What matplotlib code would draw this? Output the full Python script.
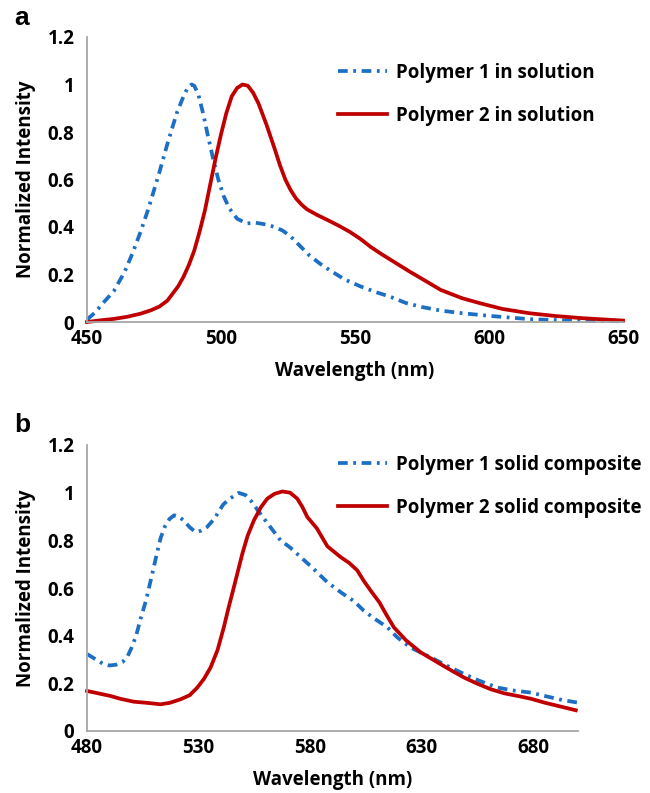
import matplotlib
matplotlib.use("Agg")
import matplotlib.pyplot as plt

# ---------------- data ----------------
# Panel a: in solution
wl_a1 = [450, 453, 456, 460, 464, 467, 470, 473, 477, 480, 483.5, 486, 487.5, 489, 490,
         491.5, 493.5, 495, 497, 499, 501, 503, 506, 509.5, 513, 517, 520, 523, 526,
         529.5, 533, 537, 541, 546, 552, 558, 563, 569, 575, 582, 590, 600, 615, 630, 650]
p1_sol = [0.01, 0.04, 0.08, 0.13, 0.21, 0.29, 0.38, 0.48, 0.63, 0.75, 0.88, 0.95, 0.985, 1.0, 0.995,
          0.96, 0.87, 0.79, 0.69, 0.60, 0.53, 0.48, 0.435, 0.415, 0.418, 0.41, 0.40, 0.385, 0.36,
          0.32, 0.28, 0.245, 0.215, 0.18, 0.15, 0.125, 0.107, 0.08, 0.063, 0.048, 0.037, 0.026,
          0.012, 0.006, 0.003]

wl_a2 = [450, 455, 460, 465, 470, 474, 477, 480, 482, 484, 486, 488, 490, 492, 494, 496, 498,
         500, 502, 504, 506, 508, 510, 512, 514, 517, 520, 522, 524, 526, 528, 530, 532, 536,
         540, 544, 548, 552, 556, 560, 565, 570, 576, 582, 590, 597, 605, 615, 625, 635, 650]
p2_sol = [0.0, 0.007, 0.013, 0.022, 0.035, 0.05, 0.065, 0.09, 0.12, 0.15, 0.19, 0.24, 0.30, 0.38,
          0.47, 0.58, 0.69, 0.79, 0.88, 0.95, 0.985, 1.0, 0.995, 0.965, 0.92, 0.83, 0.73, 0.66,
          0.60, 0.555, 0.52, 0.495, 0.475, 0.45, 0.428, 0.405, 0.38, 0.35, 0.315, 0.285, 0.25,
          0.215, 0.175, 0.135, 0.10, 0.078, 0.055, 0.037, 0.025, 0.016, 0.006]

# Panel b: solid composite
wl_b1 = [480, 484, 487, 490, 493, 496, 498, 500, 502, 504, 506.5, 509, 511.3, 513, 515, 517, 519,
         521, 523.3, 526, 528.6, 531, 533.8, 537, 541, 544, 548, 551, 553.3, 557, 561, 566.7,
         571, 575.7, 581, 587.6, 594, 599.6, 604, 609, 614.6, 619, 625, 634, 641, 649, 656, 664,
         671, 679, 686, 693, 700]
p1_solid = [0.323, 0.30, 0.283, 0.275, 0.278, 0.29, 0.31, 0.35, 0.40, 0.47, 0.55, 0.65, 0.744,
            0.81, 0.86, 0.89, 0.905, 0.90, 0.884, 0.855, 0.835, 0.84, 0.856, 0.89, 0.95, 0.975,
            0.999, 0.99, 0.968, 0.92, 0.87, 0.80, 0.77, 0.73, 0.685, 0.625, 0.58, 0.545, 0.505,
            0.47, 0.435, 0.393, 0.35, 0.309, 0.275, 0.239, 0.21, 0.182, 0.17, 0.161, 0.145,
            0.13, 0.119]

wl_b2 = [480, 485, 490.5, 495, 500.9, 507, 512.9, 517, 521.9, 526, 529.4, 532.5, 535.4, 538.5,
         541.3, 543.5, 545.8, 549.6, 552, 554.8, 558, 560.8, 564, 567.5, 571, 574.2, 576.5,
         578.7, 583, 587.7, 593.6, 597.5, 601.1, 604, 607.1, 611, 614, 617.5, 623, 629.5, 634,
         638.5, 644, 649, 655, 661, 667, 673, 679, 685, 692, 699]
p2_solid = [0.168, 0.158, 0.147, 0.135, 0.123, 0.118, 0.112, 0.118, 0.133, 0.15, 0.182, 0.22,
            0.267, 0.34, 0.435, 0.52, 0.603, 0.744, 0.82, 0.884, 0.94, 0.975, 0.995, 1.005, 1.0,
            0.975, 0.94, 0.898, 0.85, 0.775, 0.730, 0.705, 0.674, 0.63, 0.589, 0.54, 0.49, 0.435,
            0.38, 0.33, 0.305, 0.28, 0.25, 0.224, 0.198, 0.175, 0.158, 0.147, 0.135, 0.119,
            0.103, 0.087]

xticks_a = [450, 500, 550, 600, 650]
xticks_b = [480, 530, 580, 630, 680]
yticks = [0, 0.2, 0.4, 0.6, 0.8, 1.0, 1.2]
ytick_labels = ["0", "0.2", "0.4", "0.6", "0.8", "1", "1.2"]

# ---------------- style ----------------
plt.rcParams['font.family'] = ['Open Sans', 'DejaVu Sans']
plt.rcParams['font.weight'] = 'bold'
plt.rcParams['lines.scale_dashes'] = False

BLUE = '#1c6fc4'
RED = '#c00000'
GRAY = '#a6a6a6'
FS = 13.5

W, H = 650, 793
fig = plt.figure(figsize=(W / 100, H / 100), dpi=100)


def make_axes(l, t, r, b):
    return fig.add_axes([l / W, 1 - b / H, (r - l) / W, (b - t) / H])


ax_a = make_axes(87, 37, 623, 322)
ax_b = make_axes(87, 445, 578, 731)


def style(ax, xlim, xticks):
    ax.set_xlim(*xlim)
    ax.set_ylim(0, 1.2)
    ax.set_xticks(xticks)
    ax.set_xticklabels([str(v) for v in xticks], fontsize=FS, fontweight='bold')
    ax.set_yticks(yticks)
    ax.set_yticklabels(ytick_labels, fontsize=FS, fontweight='bold')
    for s in ['top', 'right']:
        ax.spines[s].set_visible(False)
    for s in ['left', 'bottom']:
        ax.spines[s].set_color(GRAY)
        ax.spines[s].set_linewidth(1.3)
    ax.tick_params(axis='both', length=0)
    ax.tick_params(axis='y', pad=9)
    ax.tick_params(axis='x', pad=5)
    ax.set_xlabel('Wavelength (nm)', fontsize=FS, fontweight='bold', labelpad=9)
    ax.set_ylabel('Normalized Intensity', fontsize=FS, fontweight='bold', labelpad=8)


dash_dot = (0, (7, 4, 2, 4))

ax_a.plot(wl_a1, p1_sol, color=BLUE, lw=2.7, linestyle=dash_dot, label='Polymer 1 in solution',
          clip_on=False)
ax_a.plot(wl_a2, p2_sol, color=RED, lw=2.7, label='Polymer 2 in solution', clip_on=False)
style(ax_a, (450, 650), xticks_a)

ax_b.plot(wl_b1, p1_solid, color=BLUE, lw=2.7, linestyle=dash_dot,
          label='Polymer 1 solid composite', clip_on=False)
ax_b.plot(wl_b2, p2_solid, color=RED, lw=2.7, label='Polymer 2 solid composite', clip_on=False)
style(ax_b, (480, 700), xticks_b)

for ax, ytop in [(ax_a, 63), (ax_b, 455)]:
    ax.legend(loc='upper left', bbox_to_anchor=(338 / W, 1 - ytop / H),
              bbox_transform=fig.transFigure, frameon=False,
              handlelength=2.6, handletextpad=0.5, labelspacing=1.2, borderpad=0,
              borderaxespad=0, prop={'weight': 'bold', 'size': FS})

fig.text(22 / W, 1 - 18 / H, 'a', fontsize=19, fontweight='bold', ha='center', va='center',
         family=['Liberation Sans', 'DejaVu Sans'])
fig.text(22 / W, 1 - 425 / H, 'b', fontsize=19, fontweight='bold', ha='center', va='center',
         family=['Liberation Sans', 'DejaVu Sans'])

fig.savefig('out.png', dpi=100)
